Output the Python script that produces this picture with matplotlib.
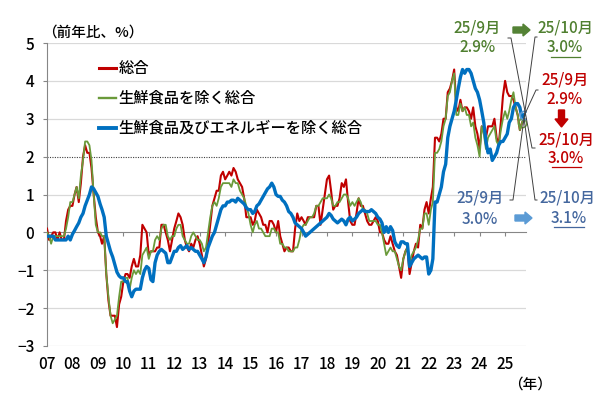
import numpy as np
import pandas as pd
import matplotlib
matplotlib.use("Agg")
import matplotlib.pyplot as plt
from matplotlib.transforms import IdentityTransform
from matplotlib.patches import FancyArrow
from matplotlib.lines import Line2D

plt.rcParams['font.family'] = ['Noto Sans CJK JP', 'DejaVu Sans']
plt.rcParams['font.weight'] = 'medium'

# ---------------- data (y/y %, monthly from Jan 2007) ----------------
start_month = '2007-01-01'

headline = [  # 総合
    0.1, -0.2, -0.1, 0.0, 0.0, -0.2, 0.0, -0.2, -0.2, 0.3, 0.6, 0.7,        # 2007
    0.7, 1.0, 1.2, 0.8, 1.3, 2.0, 2.3, 2.1, 2.1, 1.7, 1.0, 0.4,            # 2008
    0.0, -0.1, -0.3, -0.1, -1.1, -1.8, -2.2, -2.2, -2.2, -2.5, -1.9, -1.7, # 2009
    -1.3, -1.1, -1.1, -1.2, -0.9, -0.7, -0.9, -0.9, -0.6, 0.2, 0.1, 0.0,   # 2010
    -0.6, -0.5, -0.5, -0.5, -0.4, -0.4, 0.2, 0.2, 0.0, -0.2, -0.5, -0.2,   # 2011
    0.1, 0.3, 0.5, 0.4, 0.2, -0.2, -0.4, -0.5, -0.3, -0.4, -0.2, -0.1,     # 2012
    -0.3, -0.6, -0.9, -0.7, -0.3, 0.2, 0.7, 0.9, 1.1, 1.1, 1.5, 1.6,       # 2013
    1.4, 1.5, 1.6, 1.5, 1.7, 1.6, 1.4, 1.3, 1.2, 0.9, 0.4, 0.4,            # 2014
    0.4, 0.2, 0.3, 0.6, 0.5, 0.4, 0.2, 0.2, 0.0, 0.3, 0.3, 0.2,            # 2015
    0.0, 0.3, -0.1, -0.3, -0.5, -0.4, -0.4, -0.5, -0.5, 0.1, 0.5, 0.3,     # 2016
    0.4, 0.3, 0.2, 0.4, 0.4, 0.4, 0.4, 0.7, 0.7, 0.2, 0.6, 1.0,            # 2017
    1.4, 1.5, 1.1, 0.6, 0.7, 0.7, 0.9, 1.3, 1.2, 1.4, 0.8, 0.3,            # 2018
    0.2, 0.2, 0.5, 0.9, 0.7, 0.7, 0.5, 0.3, 0.2, 0.2, 0.3, 0.4,            # 2019
    0.3, 0.0, 0.0, -0.2, -0.3, -0.3, -0.1, -0.3, -0.5, -0.6, -0.9, -1.2,   # 2020
    -0.7, -0.5, -0.4, -1.1, -0.8, -0.5, -0.3, -0.4, 0.2, 0.1, 0.6, 0.8,    # 2021
    0.5, 0.9, 1.2, 2.5, 2.5, 2.4, 2.6, 3.0, 3.0, 3.7, 3.8, 4.0,            # 2022
    4.3, 3.3, 3.2, 3.5, 3.2, 3.3, 3.3, 3.2, 3.0, 3.3, 2.8, 2.6,            # 2023
    2.2, 2.8, 2.7, 2.5, 2.8, 2.8, 2.8, 3.0, 2.5, 2.3, 2.9, 3.6,            # 2024
    4.0, 3.7, 3.6, 3.6, 3.5, 3.3, 3.1, 2.7, 2.9, 3.0,                      # 2025
]

core = [  # 生鮮食品を除く総合
    0.0, -0.1, -0.3, -0.1, -0.1, -0.1, -0.1, -0.1, -0.1, 0.1, 0.4, 0.8,
    0.8, 1.0, 1.2, 0.9, 1.5, 1.9, 2.4, 2.4, 2.3, 1.9, 1.0, 0.2,
    0.0, 0.0, -0.1, -0.1, -1.1, -1.7, -2.2, -2.4, -2.3, -2.2, -1.7, -1.3,
    -1.3, -1.2, -1.2, -1.5, -1.2, -1.0, -1.1, -1.0, -1.1, -0.6, -0.5, -0.4,
    -0.7, -0.5, -0.5, -0.2, -0.1, -0.2, 0.1, 0.2, 0.2, -0.1, -0.2, -0.1,
    -0.1, 0.1, 0.2, 0.2, -0.1, -0.2, -0.3, -0.3, -0.1, 0.0, -0.1, -0.2,
    -0.2, -0.3, -0.5, -0.4, 0.0, 0.4, 0.7, 0.8, 0.7, 0.9, 1.2, 1.3,
    1.3, 1.3, 1.3, 1.2, 1.4, 1.3, 1.3, 1.1, 1.0, 0.9, 0.7, 0.5,
    0.2, 0.0, 0.2, 0.3, 0.1, 0.1, 0.0, -0.1, -0.1, -0.1, 0.1, 0.1,
    0.0, 0.0, -0.3, -0.3, -0.4, -0.4, -0.5, -0.5, -0.5, -0.4, -0.4, -0.2,
    0.1, 0.2, 0.2, 0.3, 0.4, 0.4, 0.5, 0.7, 0.7, 0.8, 0.9, 0.9,
    0.9, 1.0, 0.9, 0.7, 0.7, 0.8, 0.8, 0.9, 1.0, 1.0, 0.9, 0.7,
    0.8, 0.7, 0.8, 0.9, 0.8, 0.6, 0.6, 0.5, 0.3, 0.3, 0.3, 0.3,
    0.2, 0.2, 0.0, -0.3, -0.6, -0.5, -0.4, -0.5, -0.5, -0.7, -0.9, -1.0,
    -0.7, -0.5, -0.4, -0.8, -0.6, -0.5, -0.4, -0.2, 0.1, 0.1, 0.5, 0.5,
    0.2, 0.6, 0.8, 2.1, 2.1, 2.2, 2.4, 2.8, 3.0, 3.6, 3.7, 4.0,
    4.2, 3.1, 3.1, 3.4, 3.2, 3.3, 3.1, 3.1, 2.8, 2.9, 2.5, 2.3,
    2.0, 2.8, 2.6, 2.2, 2.5, 2.6, 2.7, 2.8, 2.4, 2.3, 2.7, 3.0,
    3.2, 3.0, 3.2, 3.5, 3.7, 3.3, 3.1, 2.7, 2.9, 3.0,
]

core_core = [  # 生鮮食品及びエネルギーを除く総合
    -0.1, -0.1, -0.1, -0.1, -0.2, -0.2, -0.2, -0.2, -0.2, -0.2, -0.1, -0.2,
    -0.05, 0.05, 0.15, 0.25, 0.4, 0.5, 0.7, 0.85, 1.0, 1.2, 1.15, 1.05,
    0.95, 0.75, 0.6, 0.4, -0.1, -0.3, -0.5, -0.65, -0.85, -1.05, -1.15, -1.2,
    -1.2, -1.3, -1.3, -1.55, -1.7, -1.55, -1.5, -1.5, -1.5, -1.2, -1.0, -0.9,
    -0.95, -1.25, -1.3, -0.8, -0.6, -0.5, -0.45, -0.5, -0.55, -0.8, -0.8, -0.65,
    -0.5, -0.5, -0.4, -0.35, -0.45, -0.4, -0.35, -0.45, -0.4, -0.45, -0.5, -0.5,
    -0.6, -0.7, -0.8, -0.65, -0.4, -0.25, -0.1, 0.0, 0.2, 0.4, 0.6, 0.7,
    0.7, 0.8, 0.8, 0.85, 0.85, 0.8, 0.9, 0.85, 0.8, 0.75, 0.65, 0.6,
    0.6, 0.5, 0.55, 0.7, 0.75, 0.85, 0.95, 1.05, 1.15, 1.2, 1.3, 1.2,
    1.0, 0.95, 0.95, 0.85, 0.8, 0.7, 0.55, 0.5, 0.4, 0.25, 0.2, 0.15,
    0.1, 0.0, -0.1, -0.05, 0.0, 0.05, 0.1, 0.15, 0.2, 0.25, 0.3, 0.35,
    0.4, 0.5, 0.45, 0.35, 0.3, 0.25, 0.3, 0.35, 0.3, 0.2, 0.35, 0.4,
    0.3, 0.35, 0.4, 0.5, 0.55, 0.6, 0.55, 0.55, 0.55, 0.6, 0.55, 0.5,
    0.4, 0.35, 0.25, 0.0, 0.15, 0.0, 0.15, 0.05, -0.25, -0.35, -0.4, -0.25,
    -0.25, -0.3, -0.3, -0.9, -0.8, -0.7, -0.65, -0.6, -0.65, -0.7, -0.65, -0.65,
    -1.1, -1.0, -0.7, 0.8, 0.8, 1.0, 1.2, 1.6, 1.8, 2.5, 2.8, 3.0,
    3.2, 3.5, 3.8, 4.1, 4.3, 4.2, 4.3, 4.3, 4.2, 4.0, 3.8, 3.7,
    3.5, 3.2, 2.9, 2.4, 2.1, 2.2, 1.9, 2.0, 2.1, 2.3, 2.4, 2.4,
    2.5, 2.6, 2.9, 3.0, 3.3, 3.4, 3.4, 3.3, 3.0, 3.1,
]

series_labels = ['総合', '生鮮食品を除く総合', '生鮮食品及びエネルギーを除く総合']
year_labels = ['07', '08', '09', '10', '11', '12', '13', '14', '15', '16',
               '17', '18', '19', '20', '21', '22', '23', '24', '25']
y_ticks = [-3, -2, -1, 0, 1, 2, 3, 4, 5]

# ---------------- styling ----------------
RED = '#C00000'
GREEN = '#6A9A3A'
GREEN_TXT = '#4F7F2F'
BLUE = '#0070C0'
BLUE_TXT = '#44679E'
BLUE_ARROW = '#5B9BD5'
GRID = '#D9D9D9'
AXIS = '#868686'

W, H = 600, 405
fig = plt.figure(figsize=(W / 100, H / 100), dpi=100)
ax = fig.add_axes([47 / W, 1 - 346 / H, 479 / W, 303 / H])

dates = pd.date_range(start_month, periods=len(headline), freq='MS')

# gridlines
for v in y_ticks:
    if v == 2:
        ax.axhline(v, color='#404040', lw=0.8, ls=(0, (1, 1.2)), zorder=1)
    elif v != 0:
        ax.axhline(v, color=GRID, lw=0.9, zorder=0)

l1, = ax.plot(dates, headline, color=RED, lw=1.5, zorder=3, label=series_labels[0])
l2, = ax.plot(dates, core, color=GREEN, lw=1.3, zorder=4, label=series_labels[1])
l3, = ax.plot(dates, core_core, color=BLUE, lw=2.4, zorder=5, label=series_labels[2])

# highlight circles at the latest points
ax.plot(dates[-2], core[-2], 'o', mfc='none', mec=GREEN, ms=6, mew=1.0, zorder=6)
ax.plot(dates[-1], core_core[-1], 'o', mfc='none', mec=BLUE_ARROW, ms=6, mew=1.2, zorder=6)

ax.set_xlim(pd.Timestamp('2007-01-01'), pd.Timestamp('2025-10-28'))
ax.set_ylim(-3, 5)

# axes / ticks
for s in ['top', 'right']:
    ax.spines[s].set_visible(False)
ax.spines['left'].set_color(AXIS)
ax.spines['bottom'].set_color(AXIS)
ax.spines['bottom'].set_position(('data', 0))
ax.spines['bottom'].set_zorder(2)

ax.set_yticks(y_ticks)
ax.set_yticklabels([f'{v}'.replace('-', '\u2212') for v in y_ticks])
ax.tick_params(axis='y', direction='out', length=3, color=AXIS, pad=6, labelsize=11)

year_ticks = pd.date_range('2007-01-01', periods=len(year_labels), freq='YS')
ax.set_xticks(year_ticks)
ax.tick_params(axis='x', direction='out', length=3, color=AXIS, labelbottom=False)
for d, lab in zip(year_ticks, year_labels):
    ax.text(d, -3.5, lab, ha='center', va='center', fontsize=11, clip_on=False)

# legend
leg = ax.legend(handles=[l1, l2, l3], loc='upper left',
                bbox_to_anchor=(99 / W, 1 - 60 / H), bbox_transform=fig.transFigure,
                frameon=False, fontsize=11, handlelength=1.1, handletextpad=0.2,
                labelspacing=0.85, borderpad=0, borderaxespad=0)
for ln, lw in zip(leg.get_lines(), [2.2, 1.7, 2.8]):
    ln.set_linewidth(lw)


def ftext(px, py, s, color='black', size=11, ha='center', **kw):
    fig.text(px / W, 1 - py / H, s, color=color, fontsize=size, ha=ha, va='center', **kw)


def fline(xs, ys, color='#404040', lw=0.7):
    fig.add_artist(Line2D([x / W for x in xs], [1 - y / H for y in ys],
                          color=color, lw=lw, transform=fig.transFigure))


def farrow(x, y, dx, dy, color, width=6, hw=12, hl=7):
    fig.add_artist(FancyArrow(x, H - y, dx, -dy, width=width, head_width=hw,
                              head_length=hl, length_includes_head=True,
                              color=color, transform=IdentityTransform()))


# axis captions
ftext(42, 33, '（前年比、%）', size=10.5, ha='left')
ftext(530, 385, '（年）', size=10.5)

# annotations (right side)
ftext(477, 28, '25/9月', GREEN_TXT)
ftext(478, 48, '2.9%', GREEN_TXT)
ftext(565, 28, '25/10月', GREEN_TXT)
ftext(565, 48, '3.0%', GREEN_TXT)
fline([551, 580], [57, 57], GREEN_TXT, 0.9)
farrow(513, 30, 17, 0, '#548235')

ftext(565, 80, '25/9月', RED)
ftext(565, 100, '2.9%', RED)
farrow(561.5, 110, 0, 17, RED, width=6, hw=13, hl=8)
ftext(566, 140, '25/10月', RED)
ftext(566, 158, '3.0%', RED)
fline([552, 581], [167, 167], RED, 0.9)

ftext(480, 198, '25/9月', BLUE_TXT)
ftext(480, 219, '3.0%', BLUE_TXT)
ftext(567, 198, '25/10月', BLUE_TXT)
ftext(569, 218, '3.1%', BLUE_TXT)
fline([554, 584], [227, 227], BLUE_TXT, 0.9)
farrow(515, 218, 17, 0, BLUE_ARROW)

# leader lines
fline([508, 511, 532, 535], [38, 38, 148, 148])
fline([537, 535, 513, 510], [37, 37, 200, 200])
fline([538, 536, 524], [90, 90, 116])
fline([524, 535, 537], [118, 200, 200])

fig.savefig('out.png', dpi=100)
